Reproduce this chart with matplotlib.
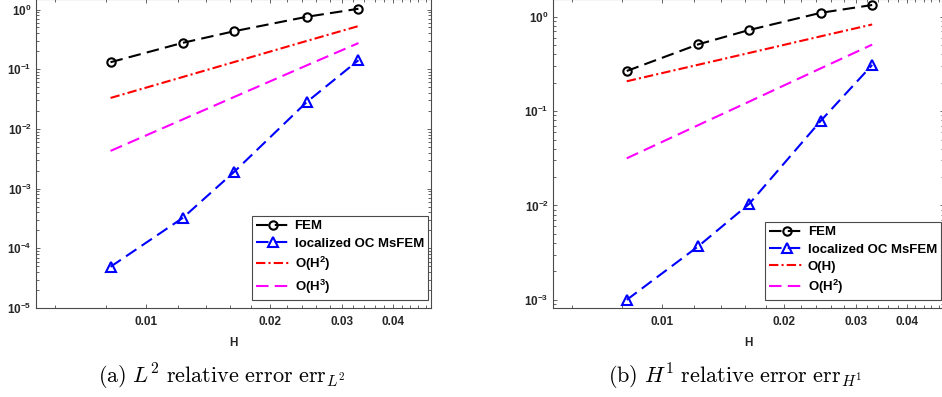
import numpy as np
import matplotlib
matplotlib.use("Agg")
import matplotlib.pyplot as plt
from matplotlib.ticker import FixedLocator, NullFormatter, LogLocator

plt.rcParams['font.family'] = ['Liberation Sans', 'DejaVu Sans']
plt.rcParams['font.weight'] = 'bold'
plt.rcParams['mathtext.fontset'] = 'custom'
plt.rcParams['mathtext.rm'] = 'Liberation Sans:bold'
plt.rcParams['mathtext.it'] = 'Liberation Sans:bold'
plt.rcParams['mathtext.bf'] = 'Liberation Sans:bold'

# data
H = [0.0082, 0.0123, 0.0164, 0.0246, 0.0329]

fem_l2 = [0.131, 0.277, 0.433, 0.754, 1.03]
ms_l2 = [4.9e-5, 3.24e-4, 1.91e-3, 0.028, 0.1415]
ref2_l2 = [0.033, 0.0742, 0.132, 0.297, 0.528]
ref3_l2 = [0.00428, 0.01445, 0.0343, 0.1156, 0.274]

fem_h1 = [0.266, 0.51, 0.723, 1.10, 1.33]
ms_h1 = [1.0e-3, 3.7e-3, 0.0104, 0.079, 0.308]
ref1_h1 = [0.207, 0.31, 0.413, 0.62, 0.827]
ref2_h1 = [0.0316, 0.0711, 0.126, 0.284, 0.506]

xticks = [0.01, 0.02, 0.03, 0.04]
xticklabels = ['0.01', '0.02', '0.03', '0.04']

panels = [
    dict(fem=fem_l2, ms=ms_l2, r1=ref2_l2, r2=ref3_l2,
         l1='O(H$^2$)', l2='O(H$^3$)', ylim=(1e-5, 1.5),
         pos=[0.0382, 0.2242, 0.4193, 0.7783],
         cap=r'$\mathrm{(a)\ }L^2\mathrm{\ relative\ error\ err}_{L^2}$', capx=0.236),
    dict(fem=fem_h1, ms=ms_h1, r1=ref1_h1, r2=ref2_h1,
         l1='O(H)', l2='O(H$^2$)', ylim=(8.2e-4, 1.54),
         pos=[0.587, 0.2242, 0.4151, 0.7783],
         cap=r'$\mathrm{(b)\ }H^1\mathrm{\ relative\ error\ err}_{H^1}$', capx=0.780),
]

edge = '#4a4a4a'
fig = plt.figure(figsize=(9.42, 3.97), dpi=100)

for p in panels:
    ax = fig.add_axes(p['pos'])
    ax.plot(H, p['fem'], color='k', lw=1.5, dashes=(6, 3), marker='o',
            ms=6, mfc='none', mew=1.5, label='FEM')
    ax.plot(H, p['ms'], color='b', lw=1.5, dashes=(6, 3), marker='^',
            ms=7, mfc='none', mew=1.5, label='localized OC MsFEM')
    ax.plot(H, p['r1'], color='r', lw=1.5, dashes=(4.5, 1.5, 1, 1.5), label=p['l1'])
    ax.plot(H, p['r2'], color='magenta', lw=1.5, dashes=(6, 3), label=p['l2'])

    ax.set_xscale('log')
    ax.set_yscale('log')
    ax.set_xlim(0.0054, 0.0494)
    ax.set_ylim(*p['ylim'])

    ax.xaxis.set_major_locator(FixedLocator(xticks))
    ax.set_xticklabels(xticklabels)
    minor = [v for v in np.arange(0.006, 0.0485, 0.002) if min(abs(v - t) for t in xticks) > 1e-6]
    ax.xaxis.set_minor_locator(FixedLocator(minor))
    ax.xaxis.set_minor_formatter(NullFormatter())
    ax.yaxis.set_major_locator(LogLocator(base=10, numticks=12))
    ax.yaxis.set_minor_locator(LogLocator(base=10, subs=np.arange(2, 10), numticks=12))
    ax.yaxis.set_minor_formatter(NullFormatter())

    ax.tick_params(which='both', direction='in', top=True, right=True,
                   colors=edge, labelcolor='#262626', labelsize=8.5)
    ax.tick_params(which='major', length=3, width=0.6)
    ax.tick_params(which='minor', length=2, width=0.6)
    ax.tick_params(axis='x', pad=6)
    ax.tick_params(axis='y', pad=3)
    for s in ax.spines.values():
        s.set_color(edge)
        s.set_linewidth(0.8)

    ax.set_xlabel('H', fontsize=8.5, fontweight='bold', color='#262626', labelpad=6)

    leg = ax.legend(loc='lower right', bbox_to_anchor=(0.992, 0.026), borderaxespad=0,
                    fontsize=9.5, handlelength=2.7, handletextpad=0.25, labelspacing=0.38,
                    fancybox=False, framealpha=1, edgecolor=edge, borderpad=0.3)
    leg.get_frame().set_linewidth(0.8)

    fig.text(p['capx'], 0.05, p['cap'], ha='center', va='center', fontsize=16,
             math_fontfamily='cm', color='k')

fig.savefig('out.png', dpi=100)
